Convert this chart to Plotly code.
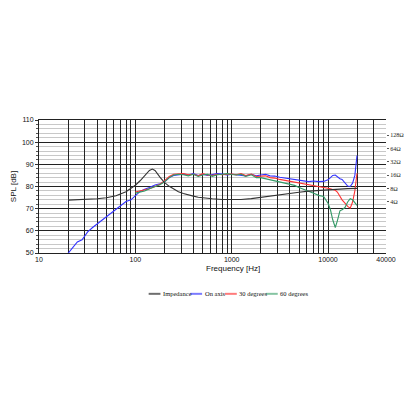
import plotly.graph_objects as go

# ---------------- data ----------------
freq_spl = [20, 22, 25, 28, 32, 36, 40, 45, 50, 56, 63, 71, 80, 90, 100, 112, 125, 140, 160, 180,
            200, 225, 250, 280, 315, 355, 400, 450, 500, 560, 630, 710, 800, 900, 1000, 1120, 1250,
            1400, 1600, 1800, 2000, 2250, 2500, 2800, 3150, 3550, 4000, 4500, 5000, 5600, 6300,
            7100, 8000, 9000, 10000, 10600, 11200, 11900, 12500, 13300, 14000, 15000, 16000,
            17000, 18000, 19000, 20000]

on_axis = [49.8, 52, 55, 56, 59.5, 61.5, 63, 65, 66.2, 68, 69.8, 71.5, 73.2, 74, 76, 77.8, 78.8,
           79.5, 80.7, 81.2, 82, 84, 85, 85.3, 85.6, 85.2, 85.8, 85, 85.5, 85, 85.4, 85.8, 85.6,
           85.2, 85.5, 85.3, 85.2, 84.8, 85.5, 84.8, 85.2, 85.5, 84.8, 84.7, 84.2, 83.8, 83.5, 83,
           82.8, 82.5, 82.2, 82.5, 82.2, 82.3, 83, 84, 85, 85.2, 84.5, 83.5, 83.2, 81.5, 80.2, 80,
           81.5, 85, 94]

deg30 = [None] * 14 + [77.5, 78, 78.5, 79, 80, 81, 82.5, 84.5, 85.5, 85.5, 85.8, 85.3, 85.5, 84.8,
                       85.8, 85.2, 85, 85.5, 85.3, 85.5, 85.6, 85.3, 85.8, 85, 85.6, 84.5, 84.6,
                       84.8, 84, 83.8, 83.2, 82.8, 82.4, 82, 81.5, 81, 80.8, 80.5, 80, 79.6, 79.2,
                       79, 78.6, 78.3, 77.5, 75.5, 74, 72.5, 71, 70.2, 73, 78, 86]

deg60 = [None] * 14 + [77, 77.5, 78, 79, 79.8, 80.8, 82, 84, 85.2, 85.5, 85.3, 84.8, 85.5, 84.5,
                       85.2, 85.5, 84.6, 85.3, 85.5, 85.8, 85.4, 85.2, 85.5, 84.5, 85.3, 84, 84,
                       83.5, 82.8, 82.3, 81.8, 81.5, 81, 80.5, 79.5, 78.8, 78, 77, 76, 75.5, 72.5,
                       69.5, 65, 61.5, 64.5, 69, 69.5, 70.5, 73, 74.5, 74, 72.5, 71.5]

freq_imp = [20, 25, 32, 40, 50, 63, 80, 90, 100, 112, 125, 140, 150, 160, 180, 200, 225, 250, 280,
            315, 355, 400, 450, 500, 560, 630, 800, 1000, 1250, 1600, 2000, 2500, 3150, 4000,
            5000, 6300, 8000, 10000, 12500, 16000, 20000]
impedance = [4.4, 4.45, 4.55, 4.7, 4.95, 5.5, 6.8, 8.0, 9.5, 12, 15.5, 20.5, 22, 20.5, 14.5, 11,
             9, 7.8, 6.8, 6.2, 5.7, 5.4, 5.1, 4.95, 4.85, 4.7, 4.55, 4.5, 4.55, 4.75, 5.1, 5.4,
             5.8, 6.2, 6.6, 7.0, 7.3, 7.5, 7.8, 8.0, 8.1]

series_names = ["Impedance", "On axis", "30 degrees", "60 degrees"]
series_colors = ["#333333", "#3333ff", "#ff3333", "#339966"]
legend_colors = ["#6e6e6e", "#7b7bff", "#ff7b7b", "#85c4a2"]

x_major = [10, 100, 1000, 10000, 40000]
x_grid = [10, 20, 30, 40, 50, 60, 70, 80, 90, 100, 200, 300, 400, 500, 600, 700, 800, 900,
          1000, 2000, 3000, 4000, 5000, 6000, 7000, 8000, 9000, 10000, 20000, 30000, 40000]
y_ticks = [50, 60, 70, 80, 90, 100, 110]
z_ticks = [4, 8, 16, 32, 64, 128]

# ---------------- figure ----------------
fig = go.Figure()
fig.add_trace(go.Scatter(x=freq_imp, y=impedance, mode="lines", name=series_names[0],
                         line=dict(color=series_colors[0], width=1.1), yaxis="y2"))
fig.add_trace(go.Scatter(x=freq_spl, y=on_axis, mode="lines", name=series_names[1],
                         line=dict(color=series_colors[1], width=1.1)))
fig.add_trace(go.Scatter(x=freq_spl, y=deg30, mode="lines", name=series_names[2],
                         line=dict(color=series_colors[2], width=1.1)))
fig.add_trace(go.Scatter(x=freq_spl, y=deg60, mode="lines", name=series_names[3],
                         line=dict(color=series_colors[3], width=1.1)))

tick_font = dict(family="Liberation Sans, Arial", size=7, color="#111")
title_font = dict(family="Liberation Sans, Arial", size=8, color="#111")

fig.update_layout(
    width=416, height=416,
    margin=dict(l=32, r=26, t=120, b=163),
    paper_bgcolor="white", plot_bgcolor="white",
    showlegend=False,
    xaxis=dict(type="log", range=[1, 4.60206], tickvals=x_grid,
               ticktext=[str(v) if v in x_major else "" for v in x_grid],
               showgrid=True, gridcolor="#222", gridwidth=1.4,
               tickfont=tick_font, ticks="", showline=True, linecolor="#222",
               linewidth=1, mirror=True),
    yaxis=dict(range=[50, 110], tickvals=y_ticks, showgrid=True, gridcolor="#222",
               gridwidth=1.4, tickfont=tick_font, ticks="outside", ticklen=3, tickcolor="#333",
               showline=True, linecolor="#222", linewidth=1,
               minor=dict(dtick=2, showgrid=True, gridcolor="#c8c8c8", gridwidth=1,
                          ticks="outside", ticklen=2, tickcolor="#555"),
               title=dict(text="SPL [dB]", font=title_font, standoff=4)),
    yaxis2=dict(type="log", range=[-0.55, 2.45], overlaying="y", side="right",
                tickvals=z_ticks, ticktext=[f"{v}\u03a9" for v in z_ticks], showgrid=False,
                tickfont=dict(family="Liberation Serif, Times New Roman", size=6, color="#222"),
                ticks="outside", ticklen=2, tickcolor="#555"),
)

fig.add_annotation(text="Frequency [Hz]", xref="paper", yref="paper", x=0.559, y=-0.165,
                   showarrow=False, font=title_font)

# custom compact legend (paper coordinates)
leg_x = [0.316, 0.436, 0.536, 0.654]
for name, col, lx in zip(series_names, legend_colors, leg_x):
    fig.add_shape(type="line", xref="paper", yref="paper", x0=lx, x1=lx + 0.034,
                  y0=-0.307, y1=-0.307, line=dict(color=col, width=2))
    fig.add_annotation(text=name, xref="paper", yref="paper", x=lx + 0.036, y=-0.307,
                       xanchor="left", yanchor="middle", showarrow=False,
                       font=dict(family="Liberation Serif, Times New Roman", size=6.5,
                                 color="#111"))

fig.write_html("out.html")
